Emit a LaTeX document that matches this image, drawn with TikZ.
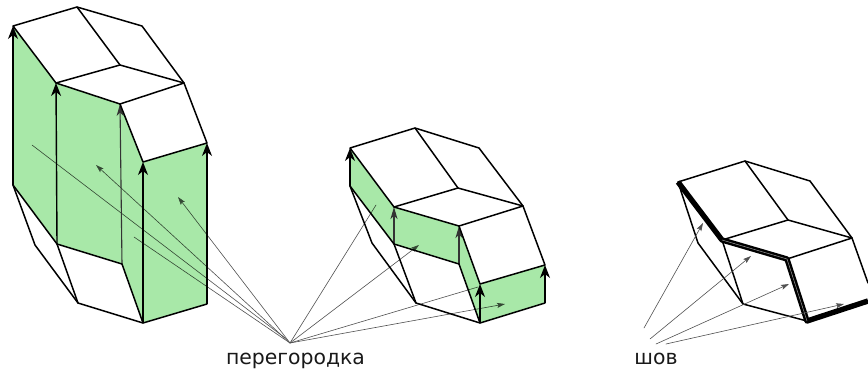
\documentclass[tikz,border=0pt]{standalone}
\usepackage{fontspec}
\setmainfont{DejaVu Sans}
\usetikzlibrary{arrows.meta}
\definecolor{partgreen}{HTML}{A8E8A8}
\definecolor{thinline}{HTML}{505050}
\tikzset{
  edgeline/.style={line width=1.5pt,black,line join=round,line cap=round},
  uparrow/.style={line width=1.4pt,black,-{Stealth[length=13pt,width=10pt,inset=4pt]}},
  lightup/.style={line width=1.1pt,black!80,-{Stealth[length=12pt,width=7pt,inset=3.5pt]}},
  leader/.style={line width=.6pt,thinline,line cap=round},
  leadarrow/.style={leader,-{Stealth[length=8pt,width=5pt,inset=1.5pt]}},
  seam/.style={line width=5.4pt,black,line join=round},
  seamcore/.style={line width=.5pt,white!60!black},
  caption/.style={font=\fontsize{20.4}{24}\selectfont,inner sep=0pt,anchor=base,text=black!90},
  wall/.style={fill=partgreen,draw=none,blend mode=multiply}
}
\begin{document}
\begin{tikzpicture}[x=1pt,y=-1pt]
\useasboundingbox (0,0) rectangle (868,370);
\node[caption] (capa) at (295.5,364) {перегородка};
\node[caption] (capb) at (656,364) {шов};
\coordinate (hub) at (290,343);
\coordinate (huba) at (285,338);
\coordinate (hubb) at (644,328);
\coordinate (hubc) at (650,339);
\coordinate (hubd) at (656,344);
\coordinate (hube) at (666,344);
\foreach \n/\p in {a/{13,26},b/{77,7},c/{142,26},d/{184,83},e/{120,65},f/{56,83},g/{120,104},h/{207,143},i/{143,162},
  j/{143,323},k/{207,304},l/{122,264},m/{57,244},n/{13,185},o/{35,245},q/{78,303}}
  {\coordinate (L\n) at (\p);}
\foreach \n/\p in {a/{350,148},b/{415,128},c/{479,148},d/{523,206},e/{458,188},f/{394,207},g/{459,226},h/{545,265},i/{480,284},
  j/{480,323},k/{545,303},l/{459,264},m/{394,244},n/{350,186},o/{372,243},q/{416,303}}
  {\coordinate (M\n) at (\p);}
\foreach \n/\p in {a/{678,182},b/{745,161},c/{810,181},d/{852,238},e/{788,220},f/{722,240},g/{787,259},h/{868,283},
  j/{807,321},k/{868,301},m/{743,304},o/{698,243}}
  {\coordinate (R\n) at (\p);}
\coordinate (ea) at (32,145);
\coordinate (eb) at (134,237);
\coordinate (ec) at (96,165);
\coordinate (ed) at (178,197);
\coordinate (ee) at (376,205);
\coordinate (ef) at (419,245);
\coordinate (eg) at (478,287);
\coordinate (eh) at (505,304);
\coordinate (ei) at (703,223);
\coordinate (ej) at (751,256);
\coordinate (ek) at (789,284);
\coordinate (el) at (844,304);
\draw[leader] (huba) -- (ea);
\draw[leader] (hub) -- (eb);
\draw[leadarrow] (hub) -- (ec);
\draw[leadarrow] (hub) -- (ed);
\draw[leader] (hub) -- (ee);
\draw[leadarrow] (hub) -- (ef);
\draw[leader] (hub) -- (eg);
\draw[leadarrow] (hub) -- (eh);
\fill[wall] (La)--(Lf)--(Lg)--(Li)--(Lh)--(Lk)--(Lj)--(Ll)--(Lm)--(Ln)--cycle;
\fill[wall] (Ma)--(Mf)--(Mg)--(Mi)--(Mh)--(Mk)--(Mj)--(Ml)--(Mm)--(Mn)--cycle;
\draw[uparrow] (Ln) -- (La);
\draw[uparrow] (Lm) -- (Lf);
\draw[lightup] (Ll) -- (Lg);
\draw[uparrow] (Lj) -- (Li);
\draw[uparrow] (Lk) -- (Lh);
\draw[uparrow] (Mn) -- (Ma);
\draw[lightup,line width=1.2pt] (Mm) -- (Mf);
\draw[lightup,line width=1.2pt] (Ml) -- (Mg);
\draw[uparrow] (Mj) -- (Mi);
\draw[uparrow] (Mk) -- (Mh);
\foreach \s in {L,M}{
  \draw[edgeline] (\s a)--(\s b)--(\s c)--(\s d)--(\s h)--(\s i)--(\s g)--(\s f)--(\s a);
  \draw[edgeline] (\s b)--(\s e)--(\s d)--(\s g);
  \draw[edgeline] (\s e)--(\s f);
  \draw[edgeline] (\s n)--(\s o)--(\s q)--(\s j)--(\s k);
  \draw[edgeline] (\s n)--(\s m)--(\s l)--(\s j);
  \draw[edgeline] (\s m)--(\s q);
}
\draw[edgeline] (Ra)--(Rb)--(Rc)--(Rd)--(Rh);
\draw[edgeline] (Rb)--(Re)--(Rd)--(Rg);
\draw[edgeline] (Re)--(Rf);
\draw[edgeline] (Ra)--(Ro)--(Rm)--(Rj);
\draw[edgeline] (Rf)--(Rm);
\draw[seam] (Ra)--(Rf)--(Rg)--(Rj)--(Rk);
\draw[seamcore] (Rf)--(Rg)--(Rj);
\draw[leadarrow] (hubb) -- (ei);
\draw[leadarrow] (hubc) -- (ej);
\draw[leadarrow] (hubd) -- (ek);
\draw[leadarrow] (hube) -- (el);
\end{tikzpicture}
\end{document}
